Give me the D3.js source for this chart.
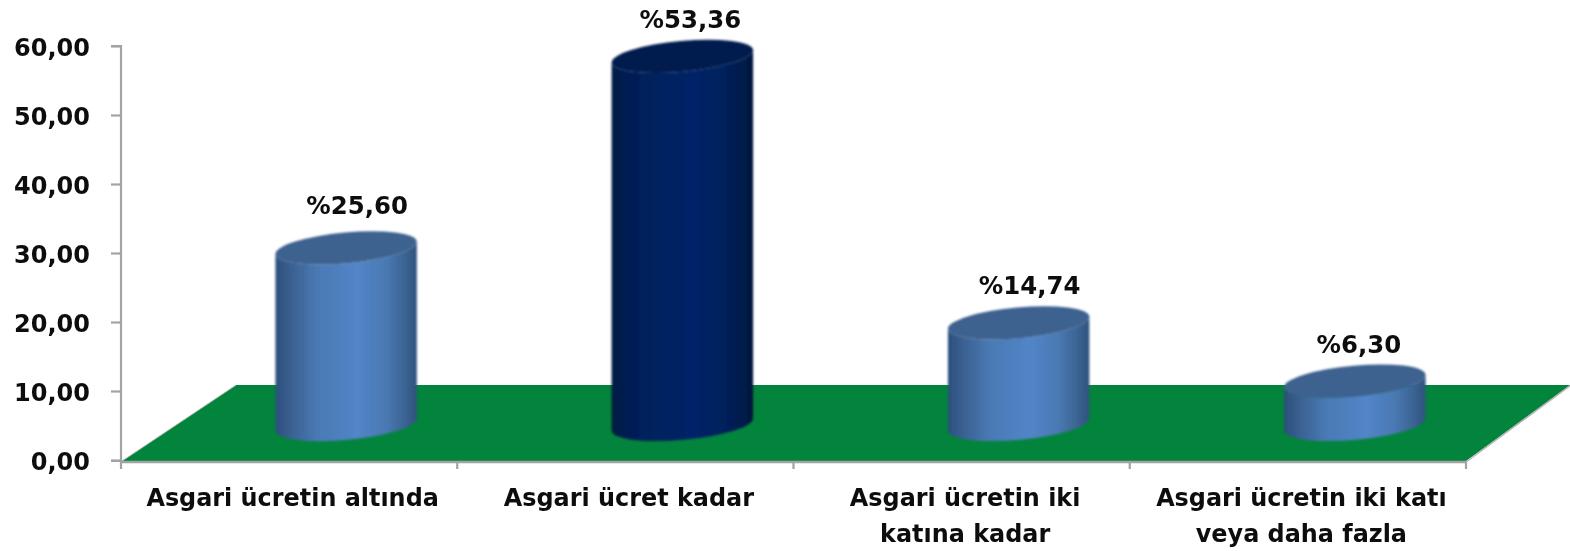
<!DOCTYPE html>
<html><head><meta charset="utf-8">
<script src="https://cdn.jsdelivr.net/npm/d3@7"></script>
<style>html,body{margin:0;padding:0;background:#fff;overflow:hidden}svg{display:block}
text{font-family:"DejaVu Sans",sans-serif;font-weight:700;fill:#111}</style>
</head><body><svg id="c" width="1570" height="551"></svg>
<script>
const categories = ["Asgari ücretin altında","Asgari ücret kadar","Asgari ücretin iki katına kadar","Asgari ücretin iki katı veya daha fazla"];
const categoryLines = [["Asgari ücretin altında"],["Asgari ücret kadar"],["Asgari ücretin iki","katına kadar"],["Asgari ücretin iki katı","veya daha fazla"]];
const values = [25.60,53.36,14.74,6.30];
const valueLabels = ["%25,60","%53,36","%14,74","%6,30"];
const yTicks = [0,10,20,30,40,50,60];
const labelDx = [11,8,11,4];
const labelDy = [-34,-28,-29,-28];

const svg = d3.select("#c");
const x = d3.scaleBand().domain(categories).range([121,1466]).paddingInner(0).paddingOuter(0);
const y = d3.scaleLinear().domain([0,60]).range([460,46]);
const depthX = 57, depthY = 35.5, rx = 71, ry = 15.4, rot = -5.2;
const theta = rot*Math.PI/180, ex = rx*Math.cos(theta), ey = -rx*Math.sin(theta);
const floorBack = 75;

const defs = svg.append("defs");
function grad(id,stops){
  const g = defs.append("linearGradient").attr("id",id).attr("x1","0").attr("x2","1").attr("y1","0").attr("y2","0");
  stops.forEach(s=>g.append("stop").attr("offset",s[0]).attr("stop-color",s[1]));
}
grad("blue",[[0,"#2c4f7c"],[0.1,"#395f8f"],[0.3,"#4a7ab5"],[0.58,"#5285c8"],[0.78,"#4a79b3"],[0.92,"#3a6392"],[1,"#2f527c"]]);
grad("navy",[[0,"#031a42"],[0.12,"#031f55"],[0.35,"#03215f"],[0.58,"#032468"],[0.8,"#03205b"],[0.93,"#031b4a"],[1,"#03173c"]]);
const blur = defs.append("filter").attr("id","soft").attr("x","-5%").attr("y","-20%").attr("width","110%").attr("height","140%");
blur.append("feGaussianBlur").attr("stdDeviation",0.65);
const blurBar = defs.append("filter").attr("id","softBar").attr("x","-5%").attr("y","-5%").attr("width","110%").attr("height","110%");
blurBar.append("feGaussianBlur").attr("stdDeviation",0.8);

// floor
const x0 = x.range()[0], x1 = x.range()[1], y0 = y(0);
svg.append("path")
  .attr("d",d3.line()([[x0+1,y0+1],[x1,y0+1],[x1+105,y0-floorBack],[x0+115,y0-floorBack]])+"Z")
  .attr("fill","#03843c");
const axisCol = "#a3a3a3";
svg.append("path").attr("d",d3.line()([[x1,y0+2],[x1+105,y0-floorBack]])).attr("stroke","#b5b5b5").attr("stroke-width",1.5).attr("fill","none");
svg.append("path").attr("d",d3.line()([[x0+1,y0+1],[x0+115,y0-floorBack]])).attr("stroke","#c5c5c5").attr("stroke-width",1).attr("fill","none");

// axes
const yAxis = d3.axisLeft(y).tickValues(yTicks).tickSize(10).tickPadding(21).tickFormat(d=>d3.format(".2f")(d).replace(".",","));
const gy = svg.append("g").attr("transform",`translate(${x0},0)`).call(yAxis);
gy.selectAll("path,line").attr("stroke",axisCol).attr("stroke-width",2.2);
gy.select("path").attr("d",`M-10,${y(60)}H0V${y0+1}H-10`);
gy.selectAll("text").attr("font-size",24).attr("fill","#111").attr("filter","url(#soft)").attr("font-family","DejaVu Sans").attr("dy","0.38em");

const gx = svg.append("g");
gx.append("line").attr("x1",x0).attr("x2",x1).attr("y1",y0+2).attr("y2",y0+2).attr("stroke",axisCol).attr("stroke-width",2.5);
gx.selectAll("line.t").data(d3.range(categories.length+1)).join("line").attr("class","t")
  .attr("x1",i=>x0+i*x.step()).attr("x2",i=>x0+i*x.step()).attr("y1",y0+2).attr("y2",y0+9)
  .attr("stroke",axisCol).attr("stroke-width",2.2);
svg.append("g").selectAll("text").data(categories).join("text")
  .attr("text-anchor","middle").attr("font-size",23.9).attr("filter","url(#soft)")
  .attr("transform",d=>`translate(${x(d)+x.bandwidth()/2+3.5},0)`)
  .each(function(d,i){
    d3.select(this).selectAll("tspan").data(categoryLines[i]).join("tspan")
      .attr("x",0).attr("y",(_,j)=>506+j*35.5).text(t=>t);
  });

// cylinders
const capPath = (cx,cy)=>`M${cx-ex},${cy+ey}A${rx},${ry} ${rot} 1 1 ${cx+ex},${cy-ey}A${rx},${ry} ${rot} 1 1 ${cx-ex},${cy+ey}Z`;
const sidePath = (cx,top,bot)=>`M${cx-ex},${top+ey}L${cx-ex},${bot+ey}A${rx},${ry} ${rot} 0 0 ${cx+ex},${bot-ey}L${cx+ex},${top-ey}A${rx},${ry} ${rot} 0 1 ${cx-ex},${top+ey}Z`;
const bars = svg.append("g").selectAll("g").data(values).join("g");
const cxOf = i=>x(categories[i])+x.bandwidth()/2+depthX;
const shapes = bars.append("g").attr("filter","url(#softBar)");
shapes.append("path").attr("d",(v,i)=>sidePath(cxOf(i),y(v)-depthY,y(0)-depthY))
  .attr("fill",(v,i)=>i===1?"url(#navy)":"url(#blue)");
shapes.append("path").attr("d",(v,i)=>capPath(cxOf(i),y(v)-depthY))
  .attr("fill",(v,i)=>i===1?"#021b50":"#3d628f");
bars.append("text").attr("text-anchor","middle").attr("font-size",24.4).attr("filter","url(#soft)")
  .attr("x",(v,i)=>cxOf(i)+labelDx[i]).attr("y",(v,i)=>y(v)-depthY+labelDy[i])
  .text((v,i)=>valueLabels[i]);
</script></body></html>
